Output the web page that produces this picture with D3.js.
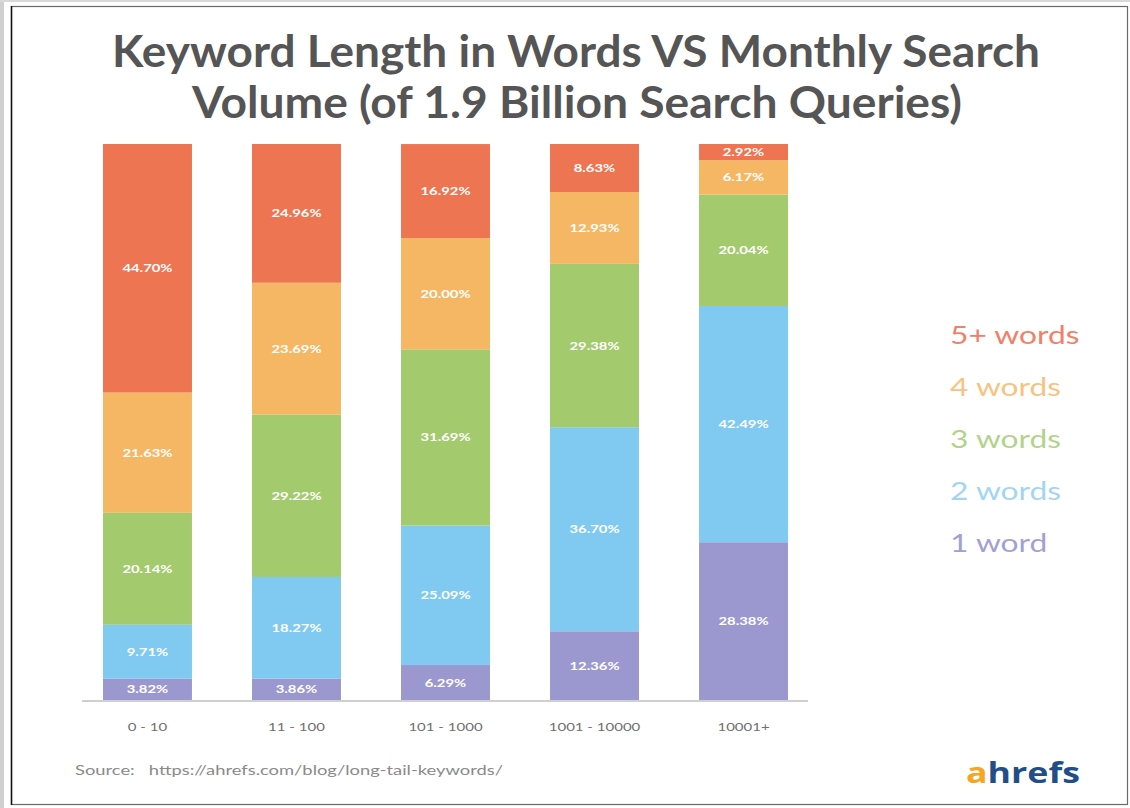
<!DOCTYPE html>
<html>
<head>
<meta charset="utf-8">
<script src="https://cdn.jsdelivr.net/npm/d3@7"></script>
<style>
  html, body { margin: 0; padding: 0; background: #fff; }
  svg { display: block; }
</style>
</head>
<body>
<svg id="chart" width="1130" height="808"></svg>
<script>
// Monthly search volume buckets
const categories = ["0-10", "11-100", "101-1000", "1001-10000", "10001+"];

// Share of keywords (%) per word count, one value per bucket
const oneWord    = [3.82, 3.86, 6.29, 12.36, 28.38];
const twoWords   = [9.71, 18.27, 25.09, 36.70, 42.49];
const threeWords = [20.14, 29.22, 31.69, 29.38, 20.04];
const fourWords  = [21.63, 23.69, 20.00, 12.93, 6.17];
const fivePlus   = [44.70, 24.96, 16.92, 8.63, 2.92];

const seriesKeys   = ["1 word", "2 words", "3 words", "4 words", "5+ words"];
const seriesValues = [oneWord, twoWords, threeWords, fourWords, fivePlus];
const seriesColors = ["#9b98d0", "#80c9f1", "#a3ca6c", "#f5b764", "#ee7552"];
const legendColors = ["#a29fd4", "#a3d5f3", "#b3d38a", "#f6c47f", "#f08068"];

const rows = categories.map((c, i) => {
  const r = { cat: c };
  seriesKeys.forEach((k, j) => { r[k] = seriesValues[j][i]; });
  return r;
});

const svg = d3.select("#chart");

// widen or narrow a text run horizontally by a factor of its natural width
function stretch(sel, factor) {
  sel.each(function () {
    const len = this.getComputedTextLength();
    d3.select(this)
      .attr("textLength", len * factor)
      .attr("lengthAdjust", "spacingAndGlyphs");
  });
}

// frame
svg.append("rect").attr("x", 0).attr("y", 0).attr("width", 4).attr("height", 808).attr("fill", "#d0d0d0");
svg.append("rect").attr("x", 0).attr("y", 0).attr("width", 1130).attr("height", 2).attr("fill", "#d8d8d8");
svg.append("rect")
  .attr("x", 11.5).attr("y", 6.5).attr("width", 1116).attr("height", 798)
  .attr("fill", "#fff").attr("stroke", "#6a6a6a").attr("stroke-width", 1.2);
svg.append("line").attr("x1", 11.5).attr("x2", 11.5).attr("y1", 6).attr("y2", 805)
  .attr("stroke", "#111").attr("stroke-width", 1.5);

// title
const titleG = svg.append("g")
  .attr("font-family", "Lato, sans-serif")
  .attr("font-weight", 700)
  .attr("font-size", 44)
  .attr("fill", "#555555")
  .attr("text-anchor", "middle");
titleG.append("text").attr("x", 576).attr("y", 67)
  .text("Keyword Length in Words VS Monthly Search")
  .attr("textLength", 928).attr("lengthAdjust", "spacingAndGlyphs");
titleG.append("text").attr("x", 577).attr("y", 118)
  .text("Volume (of 1.9 Billion Search Queries)")
  .attr("textLength", 770).attr("lengthAdjust", "spacingAndGlyphs");

// scales
const x = d3.scaleBand()
  .domain(categories)
  .range([103, 788])
  .paddingInner(0.403)
  .paddingOuter(0);

const y = d3.scaleLinear().domain([0, 100]).range([700, 144]);

const stacked = d3.stack().keys(seriesKeys)(rows);

const layers = svg.append("g").selectAll("g")
  .data(stacked)
  .join("g")
  .attr("fill", (d, i) => seriesColors[i]);

layers.selectAll("rect")
  .data(d => d)
  .join("rect")
  .attr("x", d => x(d.data.cat))
  .attr("width", x.bandwidth())
  .attr("y", d => y(d[1]))
  .attr("height", d => y(d[0]) - y(d[1]));

// segment value labels
const labels = svg.append("g")
  .attr("font-family", "Lato, sans-serif")
  .attr("font-weight", 700)
  .attr("font-size", 11)
  .attr("fill", "#ffffff")
  .attr("text-anchor", "middle");

stacked.forEach(layer => {
  labels.selectAll(null)
    .data(layer)
    .join("text")
    .attr("x", d => x(d.data.cat) + x.bandwidth() / 2)
    .attr("y", d => (y(d[0]) + y(d[1])) / 2 + 4)
    .text(d => (d[1] - d[0]).toFixed(2) + "%");
});
stretch(labels.selectAll("text"), 1.35);

// baseline axis
const xAxis = d3.axisBottom(x).tickSize(0).tickPadding(21);
const axisG = svg.append("g").attr("transform", "translate(0,701)").call(xAxis);
axisG.select(".domain").remove();
axisG.append("line")
  .attr("x1", 82).attr("x2", 808).attr("y1", 0).attr("y2", 0)
  .attr("stroke", "#cfcfcf").attr("stroke-width", 2);
axisG.selectAll(".tick text")
  .attr("font-family", "Lato, sans-serif")
  .attr("font-size", 12)
  .attr("fill", "#6f6f6f")
  .text(d => d.replace("-", " - "));
stretch(axisG.selectAll(".tick text"), 1.25);

// legend, listed top-down from 5+ words
const legend = svg.append("g")
  .attr("font-family", "Lato, sans-serif")
  .attr("font-size", 25)
  .attr("font-weight", 400);

const legendOrder = seriesKeys.map((k, i) => ({ k, c: legendColors[i] })).reverse();
legend.selectAll("text")
  .data(legendOrder)
  .join("text")
  .attr("x", 950)
  .attr("y", (d, i) => 344 + i * 52)
  .attr("fill", d => d.c)
  .text(d => d.k);
stretch(legend.selectAll("text"), 1.27);

// source note
svg.append("text")
  .attr("x", 75).attr("y", 775)
  .attr("font-family", "Lato, sans-serif")
  .attr("font-size", 13)
  .attr("fill", "#8a8a8a")
  .attr("xml:space", "preserve")
  .text("Source:   https://ahrefs.com/blog/long-tail-keywords/")
  .attr("textLength", 428).attr("lengthAdjust", "spacingAndGlyphs");

// logo
const logo = svg.append("text")
  .attr("x", 966).attr("y", 783)
  .attr("font-family", "'Open Sans', sans-serif")
  .attr("font-weight", 700)
  .attr("font-size", 29)
  .attr("textLength", 114).attr("lengthAdjust", "spacingAndGlyphs");
logo.append("tspan").attr("fill", "#f5a623").text("a");
logo.append("tspan").attr("fill", "#1f4f86").text("hrefs");
</script>
</body>
</html>
